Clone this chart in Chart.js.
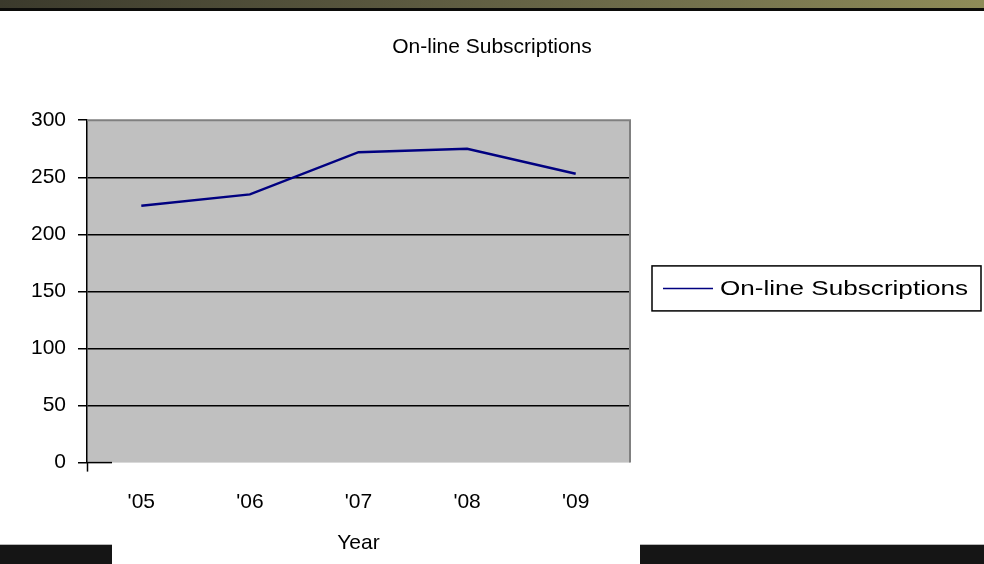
<!DOCTYPE html>
<html>
<head>
<meta charset="utf-8">
<script src="https://cdn.jsdelivr.net/npm/chart.js@4/dist/chart.umd.min.js"></script>
<style>
  html, body { margin:0; padding:0; background:#fff; }
  #wrap { position:relative; width:984px; height:564px; overflow:hidden; }
  #topBand { position:absolute; left:0; top:0; width:984px; height:8px;
    background:linear-gradient(90deg,#3b3a2c 0%,#5a583f 40%,#77754f 75%,#8f8c58 100%); }
  #topLine { position:absolute; left:0; top:8px; width:984px; height:3px; background:#0c0c0a; }
  .bot { position:absolute; top:544px; height:20px; background:#151515; border-top:1px solid #b8b8b8; }
</style>
</head>
<body>
<div id="wrap">
  <canvas id="c" width="984" height="564"></canvas>
  <div id="topBand"></div><div id="topLine"></div>
  <div class="bot" style="left:0;width:112px"></div>
  <div class="bot" style="left:640px;width:344px"></div>
</div>
<script>
// ---- data ----
const years = ["'05", "'06", "'07", "'08", "'09"];
const subscriptions = [225, 235, 272, 275, 253];
const yTicks = [0, 50, 100, 150, 200, 250, 300];

const FONT = { family: '"Liberation Sans", Arial, sans-serif', size: 21, weight: 'normal' };

// plot area fill + borders + legend box
const decor = {
  id: 'decor',
  beforeDraw(chart){
    const { ctx, chartArea: a } = chart;
    ctx.save();
    ctx.fillStyle = '#c0c0c0';
    ctx.fillRect(a.left, a.top, a.right - a.left, a.bottom - a.top);
    ctx.restore();
  },
  afterDatasetsDraw(chart){
    const { ctx, chartArea: a } = chart;
    const y0 = chart.scales.y.getPixelForValue(0);
    ctx.save();
    ctx.strokeStyle = '#808080';
    ctx.lineWidth = 2;
    ctx.beginPath();
    ctx.moveTo(a.left, a.top); ctx.lineTo(a.right, a.top); ctx.lineTo(a.right, a.bottom);
    ctx.stroke();
    // short stub at zero
    ctx.strokeStyle = '#000';
    ctx.lineWidth = 1.5;
    ctx.beginPath(); ctx.moveTo(a.left, y0); ctx.lineTo(a.left + 25, y0); ctx.stroke();
    ctx.restore();
  },
  afterDraw(chart){
    const { ctx, chartArea: a } = chart;
    const ds = chart.data.datasets[0];
    const x = a.right + 22, yMid = (a.top + a.bottom) / 2 - 3;
    const h = 45, w = 329;
    ctx.save();
    ctx.strokeStyle = '#000';
    ctx.lineWidth = 1.5;
    ctx.strokeRect(x, yMid - h / 2, w, h);
    ctx.strokeStyle = ds.borderColor;
    ctx.lineWidth = 1.5;
    ctx.beginPath(); ctx.moveTo(x + 11, yMid); ctx.lineTo(x + 61, yMid); ctx.stroke();
    // legend text is stretched wide in the original
    ctx.font = `${FONT.size}px ${FONT.family}`;
    const tw = ctx.measureText(ds.label).width;
    ctx.translate(x + 68, yMid + 1);
    ctx.scale(248 / tw, 1);
    ctx.fillStyle = '#000';
    ctx.textBaseline = 'middle';
    ctx.fillText(ds.label, 0, 0);
    ctx.restore();
  }
};

new Chart(document.getElementById('c'), {
  type: 'line',
  data: {
    labels: years,
    datasets: [{
      label: 'On-line Subscriptions',
      data: subscriptions,
      borderColor: '#000080',
      borderWidth: 2.5,
      pointRadius: 0,
      tension: 0,
      yAxisID: 'y'
    }]
  },
  options: {
    responsive: false,
    animation: false,
    layout: { padding: { left: 0, right: 0, top: 0, bottom: 2 } },
    plugins: {
      legend: { display: false },
      tooltip: { enabled: false },
      title: {
        display: true,
        text: 'On-line Subscriptions',
        color: '#000',
        font: FONT,
        padding: { top: 35, bottom: 60 }
      }
    },
    scales: {
      x: {
        offset: true,
        border: { display: false },
        grid: {
          offset: true,
          drawOnChartArea: false,
          tickLength: 9,
          tickColor: ctx => ctx.index === 0 ? '#000' : 'rgba(0,0,0,0)',
          tickWidth: 1.5
        },
        ticks: { color: '#000', font: FONT, padding: 18, maxRotation: 0 },
        title: { display: true, text: 'Year', color: '#000', font: FONT, padding: { top: -2, bottom: 6 } }
      },
      y: {
        min: 0,
        max: 300,
        afterBuildTicks: axis => { axis.ticks = yTicks.map(v => ({ value: v })); },
        afterFit: axis => { axis.width = 87; },
        border: { color: '#000', width: 1.5 },
        grid: {
          color: ctx => (ctx.tick && (ctx.tick.value === 0 || ctx.tick.value === 300)) ? 'rgba(0,0,0,0)' : '#000',
          lineWidth: 1.5,
          tickColor: '#000',
          tickLength: 9
        },
        ticks: { color: '#000', font: FONT, padding: 12 }
      },
      // empty space on the right that holds the legend
      side: {
        type: 'linear',
        position: 'right',
        afterFit: axis => { axis.width = 354; },
        border: { display: false },
        grid: { display: false },
        ticks: { display: false }
      }
    }
  },
  plugins: [decor]
});
</script>
</body>
</html>
